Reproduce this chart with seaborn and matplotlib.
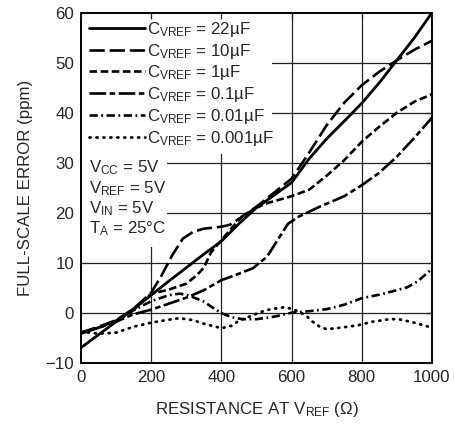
import matplotlib
matplotlib.use("Agg")
import matplotlib.pyplot as plt
import seaborn as sns
import pandas as pd
from matplotlib.patches import Rectangle

# ---- data ----
x_22u = [0, 50, 100, 150, 200, 250, 300, 350, 400, 450, 500, 550, 600, 650, 700, 750, 800, 850, 900, 950, 1000]
y_22u = [-7.0, -4.4, -1.8, 0.8, 3.5, 6.3, 9.0, 11.7, 14.3, 17.8, 21.0, 23.5, 26.0, 30.8, 34.8, 38.3, 41.9, 46.0, 50.5, 55.0, 60.0]

x_10u = [0, 50, 100, 150, 200, 230, 260, 290, 320, 350, 400, 425, 450, 500, 550, 600, 650, 700, 750, 800, 850, 900, 950, 1000]
y_10u = [-4.0, -2.8, -1.5, 0.8, 4.0, 7.5, 11.5, 14.8, 16.2, 16.8, 17.2, 17.6, 18.8, 21.2, 24.0, 26.8, 32.0, 37.5, 42.0, 45.5, 48.2, 50.5, 52.6, 54.4]

x_1u = [0, 50, 100, 150, 200, 250, 300, 330, 350, 370, 400, 430, 460, 500, 530, 560, 600, 650, 700, 750, 800, 850, 900, 950, 1000]
y_1u = [-4.0, -3.0, -1.6, 0.6, 3.8, 4.6, 5.8, 7.5, 9.0, 12.0, 14.5, 17.0, 19.3, 21.0, 21.9, 22.5, 23.3, 24.6, 27.4, 30.5, 34.2, 37.2, 40.0, 42.2, 43.7]

x_100n = [0, 50, 100, 150, 200, 250, 300, 350, 400, 450, 490, 530, 560, 590, 620, 680, 750, 800, 850, 900, 950, 1000]
y_100n = [-4.2, -3.0, -1.8, -0.3, 0.6, 1.8, 3.0, 4.5, 6.5, 7.8, 8.9, 11.2, 14.5, 17.8, 19.2, 21.2, 23.3, 25.5, 28.0, 31.2, 35.0, 39.0]

x_10n = [0, 50, 100, 150, 200, 250, 280, 300, 330, 350, 380, 400, 430, 460, 500, 550, 600, 650, 700, 750, 800, 850, 900, 930, 960, 1000]
y_10n = [-4.0, -3.0, -1.8, 0.5, 2.3, 3.5, 3.8, 3.6, 2.8, 2.2, 0.8, -0.1, -0.9, -1.3, -1.3, -0.8, 0.0, 0.3, 0.7, 1.6, 2.9, 3.6, 4.5, 5.1, 6.3, 8.8]

x_1n = [0, 50, 100, 150, 200, 250, 280, 320, 350, 400, 430, 450, 490, 515, 540, 580, 605, 640, 660, 680, 700, 740, 790, 830, 880, 905, 950, 1000]
y_1n = [-3.8, -4.2, -4.0, -2.8, -2.0, -1.4, -1.1, -1.5, -2.2, -3.1, -2.6, -1.6, -0.5, 0.2, 0.7, 1.1, 0.7, -0.5, -1.8, -2.8, -3.3, -3.0, -2.5, -1.8, -1.3, -1.3, -2.0, -3.0]

labels = ["22µF", "10µF", "1µF", "0.1µF", "0.01µF", "0.001µF"]
conditions = ["V$_\\mathrm{CC}$ = 5V", "V$_\\mathrm{REF}$ = 5V", "V$_\\mathrm{IN}$ = 5V", "T$_\\mathrm{A}$ = 25°C"]
xticks = [0, 200, 400, 600, 800, 1000]
yticks = [-10, 0, 10, 20, 30, 40, 50, 60]

series = [(x_22u, y_22u), (x_10u, y_10u), (x_1u, y_1u), (x_100n, y_100n), (x_10n, y_10n), (x_1n, y_1n)]

sns.set_style("white")
FONT = ["Liberation Sans", "DejaVu Sans"]
plt.rcParams["font.family"] = FONT
plt.rcParams["mathtext.fontset"] = "custom"
plt.rcParams["mathtext.rm"] = "Liberation Sans"
plt.rcParams["mathtext.it"] = "Liberation Sans"
plt.rcParams["lines.scale_dashes"] = False

FS = 12.2

fig = plt.figure(figsize=(4.54, 4.28), dpi=100)
ax = fig.add_axes([0.1784, 0.1526, 0.7731, 0.8177])

# grid
for xv in xticks[1:-1]:
    ax.axvline(xv, color="#222222", lw=0.9, zorder=1)
for yv in yticks[1:-1]:
    ax.axhline(yv, color="#222222", lw=0.9, zorder=1)

# white boxes behind legend and conditions text
ax.add_patch(Rectangle((0.0, 0.595), 0.545, 0.40, transform=ax.transAxes,
                       facecolor="white", edgecolor="none", zorder=1.5))
ax.add_patch(Rectangle((0.0, 0.33), 0.245, 0.27, transform=ax.transAxes,
                       facecolor="white", edgecolor="none", zorder=1.5))

styles = [
    dict(linestyle="-", lw=2.0),
    dict(linestyle=(0, (11, 3.5)), lw=1.9),
    dict(linestyle=(0, (5.5, 2.5)), lw=1.9),
    dict(linestyle=(0, (12, 2.5, 4, 2.5)), lw=1.9),
    dict(linestyle=(0, (6, 2.5, 1.3, 2.5)), lw=1.9),
    dict(linestyle=(0, (0.8, 4.2)), lw=2.0, dash_capstyle="round"),
]

for (xs, ys), lab, st in zip(series, labels, styles):
    df = pd.DataFrame({"x": xs, "y": ys})
    sns.lineplot(data=df, x="x", y="y", ax=ax, color="black", label="C$_\\mathrm{VREF}$ = " + lab,
                 zorder=3, sort=False, **st)

ax.set_xlim(0, 1000)
ax.set_ylim(-10, 60)
ax.set_xticks(xticks)
ax.set_yticks(yticks)
ax.set_yticklabels(["\u221210" if v == -10 else str(v) for v in yticks])
ax.set_axisbelow(False)
ax.tick_params(direction="in", length=4, width=0.9, labelsize=FS, top=True, right=True, pad=5)
for s in ax.spines.values():
    s.set_linewidth(1.4)
    s.set_color("black")

ax.set_xlabel("RESISTANCE AT V$_\\mathrm{REF}$ (Ω)", fontsize=FS, labelpad=11)
ax.set_ylabel("FULL-SCALE ERROR (ppm)", fontsize=FS, labelpad=9)

leg = ax.legend(loc="upper left", bbox_to_anchor=(0.018, 0.985), frameon=False, fontsize=FS,
                handlelength=3.3, handletextpad=0.15, labelspacing=0.17, borderaxespad=0.0,
                borderpad=0.1)

for i, t in enumerate(conditions):
    ax.text(0.022, 0.556 - i * 0.058, t, transform=ax.transAxes, fontsize=FS, va="center", ha="left", zorder=4)

fig.savefig("out.png", dpi=100)
